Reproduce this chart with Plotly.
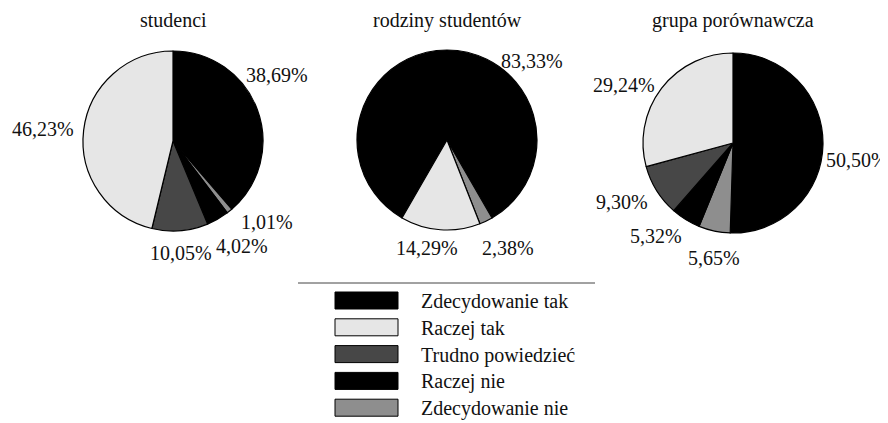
import plotly.graph_objects as go

# strona ma domyślny margines body 8 px, więc rysunek jest o 8 px mniejszy
PAGE_OFF = 8
W, H = 888 - PAGE_OFF, 423 - PAGE_OFF

# kolejność wycinków (zgodnie z ruchem wskazówek zegara)
slice_labels = ["Zdecydowanie tak", "Zdecydowanie nie", "Raczej nie", "Trudno powiedzieć", "Raczej tak"]
studenci = [38.69, 1.01, 4.02, 10.05, 46.23]
rodziny = [83.33, 2.38, 0.0, 0.0, 14.29]
porownawcza = [50.50, 5.65, 5.32, 9.30, 29.24]

titles = ["studenci", "rodziny studentów", "grupa porównawcza"]
legend_labels = ["Zdecydowanie tak", "Raczej tak", "Trudno powiedzieć", "Raczej nie", "Zdecydowanie nie"]

colors = {"Zdecydowanie tak": "#000000",
          "Raczej tak": "#e6e6e6",
          "Trudno powiedzieć": "#474747",
          "Raczej nie": "#000000",
          "Zdecydowanie nie": "#8e8e8e"}

FONT = "Liberation Serif, DejaVu Serif, serif"
FS = 20


def px_x(x):
    return (x - PAGE_OFF) / W


def px_y(y):
    return 1 - (y - PAGE_OFF) / H


# środek, promień i obrót każdego koła (piksele strony)
pie_geom = [(173, 141, 90, 0), (447, 140, 90, 210), (733, 143, 90, 0)]
# przesunięcia etykiet procentowych względem środka koła
label_offsets = [
    {"Zdecydowanie tak": (104, -66), "Zdecydowanie nie": (94, 81), "Raczej nie": (69, 105),
     "Trudno powiedzieć": (8, 112), "Raczej tak": (-130, -12)},
    {"Zdecydowanie tak": (85, -79), "Zdecydowanie nie": (61, 108), "Raczej tak": (-20, 108)},
    {"Zdecydowanie tak": (124, 17), "Zdecydowanie nie": (-19, 115), "Raczej nie": (-77, 93),
     "Trudno powiedzieć": (-111, 59), "Raczej tak": (-109, -58)},
]

fig = go.Figure()
annotations = []
for vals, (cx, cy, r, rot), offs in zip([studenci, rodziny, porownawcza], pie_geom, label_offsets):
    labs = [l for l, v in zip(slice_labels, vals) if v > 0]
    vs = [v for v in vals if v > 0]
    fig.add_trace(go.Pie(
        labels=labs, values=vs, sort=False, direction="clockwise", rotation=rot,
        marker=dict(colors=[colors[l] for l in labs], line=dict(color="#000000", width=1.2)),
        textinfo="none", showlegend=False, hoverinfo="label+value",
        domain=dict(x=[px_x(cx - r), px_x(cx + r)], y=[px_y(cy + r), px_y(cy - r)]),
    ))
    for l, v in zip(labs, vs):
        dx, dy = offs[l]
        annotations.append(dict(x=px_x(cx + dx), y=px_y(cy + dy), text=("%.2f%%" % v).replace(".", ","),
                                showarrow=False, xref="paper", yref="paper",
                                xanchor="center", yanchor="middle",
                                font=dict(family=FONT, size=FS, color="#111111")))

for t, (cx, cy, r, rot) in zip(titles, pie_geom):
    annotations.append(dict(x=px_x(cx), y=px_y(20), text=t, showarrow=False,
                            xref="paper", yref="paper", xanchor="center", yanchor="middle",
                            font=dict(family=FONT, size=FS, color="#111111")))

# legenda rysowana ręcznie
shapes = [dict(type="line", xref="paper", yref="paper", x0=px_x(298), x1=px_x(595),
               y0=px_y(283), y1=px_y(283), line=dict(color="#444444", width=1))]
row_y = [300.5, 327.3, 354.1, 380.9, 407.7]
for lab, ry in zip(legend_labels, row_y):
    shapes.append(dict(type="rect", xref="paper", yref="paper",
                       x0=px_x(335), x1=px_x(398), y0=px_y(ry + 8.5), y1=px_y(ry - 8.5),
                       fillcolor=colors[lab], line=dict(color="#000000", width=1)))
    annotations.append(dict(x=px_x(419), y=px_y(ry + 1), text=lab, showarrow=False,
                            xref="paper", yref="paper", xanchor="left", yanchor="middle",
                            font=dict(family=FONT, size=FS, color="#111111")))

fig.update_layout(width=W, height=H, margin=dict(l=0, r=0, t=0, b=0),
                  paper_bgcolor="white", plot_bgcolor="white",
                  annotations=annotations, shapes=shapes)

fig.write_html("out.html")
